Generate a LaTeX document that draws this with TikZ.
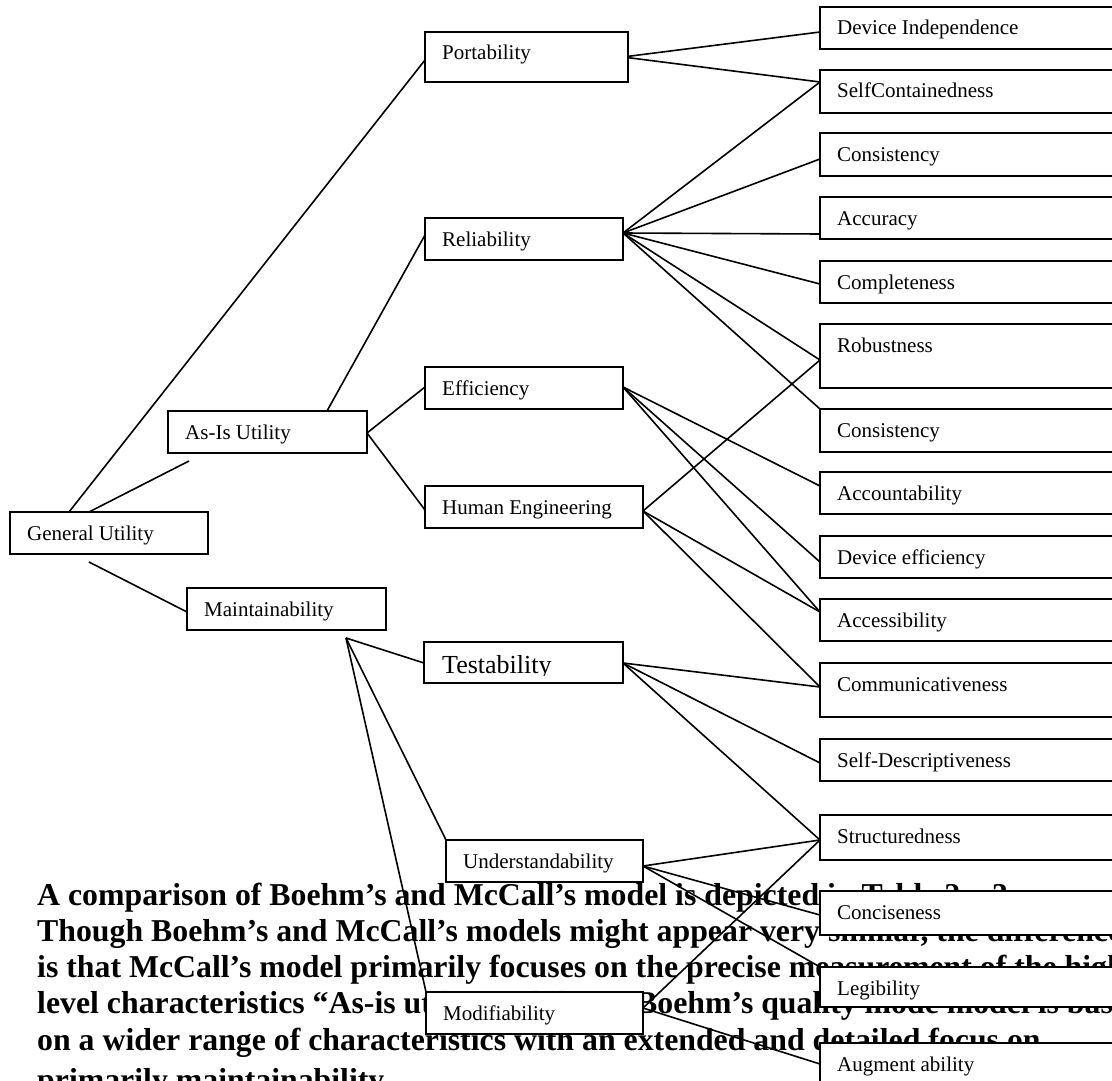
\documentclass[tikz,border=0pt]{standalone}
\usepackage{fontspec}
\setmainfont{Liberation Serif}
\usetikzlibrary{calc}
\newcommand{\dfont}{\fontsize{21}{25}\selectfont}
\newcommand{\tfont}{\fontsize{26}{30}\selectfont}
\newcommand{\pfont}{\fontsize{31.8}{36}\selectfont\bfseries}
\pgfdeclarelayer{back}
\pgfsetlayers{back,main}
\begin{document}
\begin{tikzpicture}[x=1pt,y=-1pt,
  box/.style={draw, line width=1.8pt, fill=white, anchor=north west, inner sep=0pt, outer sep=0pt},
  lbl/.style={anchor=base west, inner sep=0pt, xshift=17pt, yshift=-28pt, font=\dfont},
  conn/.style={line width=1.6pt},
  para/.style={anchor=base west, inner sep=0pt, font=\pfont}]
\useasboundingbox (0,0) rectangle (1112,1081);

% ---------- left / middle boxes ----------
\node[box, minimum width=198, minimum height=42, label={[lbl]north west:General Utility}] (gu) at (10,512) {};
\node[box, minimum width=199, minimum height=42, label={[lbl]north west:As-Is Utility}] (asis) at (168,411) {};
\node[box, minimum width=199, minimum height=42, label={[lbl]north west:Maintainability}] (maint) at (187,588) {};
\node[box, minimum width=203, minimum height=50, label={[lbl]north west:Portability}] (port) at (425,32) {};
\node[box, minimum width=198, minimum height=42, label={[lbl]north west:Reliability}] (rel) at (425,218) {};
\node[box, minimum width=198, minimum height=42, label={[lbl]north west:Efficiency}] (eff) at (425,367) {};
\node[box, minimum width=218, minimum height=42, label={[lbl]north west:Human Engineering}] (he) at (425,486) {};
\node[box, minimum width=199, minimum height=41] (test) at (424,642) {};
\begin{scope}
  \clip (426,644) rectangle (621,675);
  \node[anchor=base west, inner sep=0pt, font=\tfont] (testtxt) at (442,673) {Testability};
\end{scope}
\node[box, minimum width=197, minimum height=42, label={[lbl]north west:Understandability}] (und) at (446,840) {};
\node[box, minimum width=217, minimum height=42, label={[lbl]north west:Modifiability}] (mod) at (426,992) {};

% ---------- right column ----------
\node[box, minimum width=330, minimum height=42, label={[lbl]north west:Device Independence}] (di) at (820,7) {};
\node[box, minimum width=330, minimum height=43, label={[lbl]north west:SelfContainedness}] (sc) at (820,70) {};
\node[box, minimum width=330, minimum height=43, label={[lbl]north west:Consistency}] (consa) at (820,133) {};
\node[box, minimum width=330, minimum height=42, label={[lbl]north west:Accuracy}] (accu) at (820,197) {};
\node[box, minimum width=330, minimum height=42, label={[lbl]north west:Completeness}] (comp) at (820,261) {};
\node[box, minimum width=330, minimum height=64, label={[lbl]north west:Robustness}] (rob) at (820,324) {};
\node[box, minimum width=330, minimum height=43, label={[lbl]north west:Consistency}] (consb) at (820,409) {};
\node[box, minimum width=330, minimum height=42, label={[lbl]north west:Accountability}] (acct) at (820,472) {};
\node[box, minimum width=330, minimum height=42, label={[lbl]north west:Device efficiency}] (deveff) at (820,536) {};
\node[box, minimum width=330, minimum height=42, label={[lbl]north west:Accessibility}] (access) at (820,599) {};
\node[box, minimum width=330, minimum height=54, label={[lbl]north west:Communicativeness}] (comm) at (820,663) {};
\node[box, minimum width=330, minimum height=42, label={[lbl]north west:Self-Descriptiveness}] (selfd) at (820,739) {};
\node[box, minimum width=330, minimum height=45, label={[lbl]north west:Structuredness}] (struct) at (820,815) {};
\node[box, minimum width=330, minimum height=44, label={[lbl]north west:Conciseness}] (conc) at (820,891) {};
\node[box, minimum width=330, minimum height=40, label={[lbl]north west:Legibility}] (leg) at (820,967) {};
\node[box, minimum width=330, minimum height=60, label={[lbl]north west:Augment ability}] (aug) at (820,1043) {};

% ---------- connection points ----------
\coordinate (guA) at ($(gu.north west)+(59,0)$);
\coordinate (guB) at ($(gu.north west)+(79,0)$);
\coordinate (guC) at ($(gu.south west)+(79,8)$);
\coordinate (asisFree) at ($(asis.south west)+(21,8)$);
\coordinate (asisTop) at ($(asis.north west)+(159,0)$);
\coordinate (asisE) at ($(asis.north east)+(0,22)$);
\coordinate (maintW) at ($(maint.north west)+(0,24)$);
\coordinate (maintP) at ($(maint.south west)+(159,8)$);
\coordinate (portW) at ($(port.north west)+(0,28)$);
\coordinate (portE) at ($(port.north east)+(-5,25)$);
\coordinate (relW) at ($(rel.north west)+(0,17)$);
\coordinate (relE) at ($(rel.north east)+(0,15)$);
\coordinate (effW) at ($(eff.north west)+(0,20)$);
\coordinate (effE) at ($(eff.north east)+(0,20)$);
\coordinate (heW) at ($(he.north west)+(0,24)$);
\coordinate (heE) at ($(he.north east)+(0,25)$);
\coordinate (testW) at ($(test.north west)+(0,21)$);
\coordinate (testE) at ($(test.north east)+(0,21)$);
\coordinate (undE) at ($(und.north east)+(0,26)$);
\coordinate (modE) at ($(mod.north east)+(0,16)$);
\coordinate (diW) at ($(di.north west)+(0,25)$);
\coordinate (scW) at ($(sc.north west)+(0,12)$);
\coordinate (consaW) at ($(consa.north west)+(0,26)$);
\coordinate (accuW) at ($(accu.north west)+(0,37)$);
\coordinate (compW) at ($(comp.north west)+(0,23)$);
\coordinate (robW) at ($(rob.north west)+(0,36)$);
\coordinate (acctW) at ($(acct.north west)+(0,14)$);
\coordinate (deveffW) at ($(deveff.north west)+(0,26)$);
\coordinate (accessW) at ($(access.north west)+(0,13)$);
\coordinate (commW) at ($(comm.north west)+(0,24)$);
\coordinate (selfdW) at ($(selfd.north west)+(0,24)$);
\coordinate (structW) at ($(struct.north west)+(0,25)$);
\coordinate (concW) at ($(conc.north west)+(0,24)$);
\coordinate (augW) at ($(aug.north west)+(0,21)$);

\begin{pgfonlayer}{back}
\fill[white] (0,0) rectangle (1112,1081);
% ---------- paragraph ----------
\node[para] (l1) at (37,905) {A comparison of Boehm’s and McCall’s model is depicted in Table 2 – 3.};
\node[para] (l2) at (37,941) {Though Boehm’s and McCall’s models might appear very similar, the difference};
\node[para] (l3) at (37,977) {is that McCall’s model primarily focuses on the precise measurement of the high};
\node[para] (l4) at (37,1013) {level characteristics “As-is utility” while\hspace{47pt} Boehm’s quality mode model is based};
\node[para] (l5) at (37,1050) {on a wider range of characteristics with an extended and detailed focus on};
\node[para] (l6) at (37,1090) {primarily maintainability.};
% ---------- connectors ----------
\draw[conn] (guA) -- (portW);
\draw[conn] (guB) -- (asisFree);
\draw[conn] (guC) -- (maintW);
\draw[conn] (asisTop) -- (relW);
\draw[conn] (asisE) -- (effW);
\draw[conn] (asisE) -- (heW);
\draw[conn] (portE) -- (diW);
\draw[conn] (portE) -- (scW);
\draw[conn] (relE) -- (scW);
\draw[conn] (relE) -- (consaW);
\draw[conn] (relE) -- (accuW);
\draw[conn] (relE) -- (compW);
\draw[conn] (relE) -- (robW);
\draw[conn] (relE) -- (consb.north west);
\draw[conn] (effE) -- (acctW);
\draw[conn] (effE) -- (deveffW);
\draw[conn] (effE) -- (accessW);
\draw[conn] (heE) -- (robW);
\draw[conn] (heE) -- (accessW);
\draw[conn] (heE) -- (commW);
\draw[conn] (maintP) -- (testW);
\draw[conn] (maintP) -- (und.north west);
\draw[conn] (maintP) -- (mod.north west);
\draw[conn] (testE) -- (commW);
\draw[conn] (testE) -- (selfdW);
\draw[conn] (testE) -- (structW);
\draw[conn] (undE) -- (structW);
\draw[conn] (undE) -- (concW);
\draw[conn] (undE) -- (leg.north west);
\draw[conn] (modE) -- (structW);
\draw[conn] (modE) -- (augW);
\end{pgfonlayer}
\end{tikzpicture}
\end{document}
